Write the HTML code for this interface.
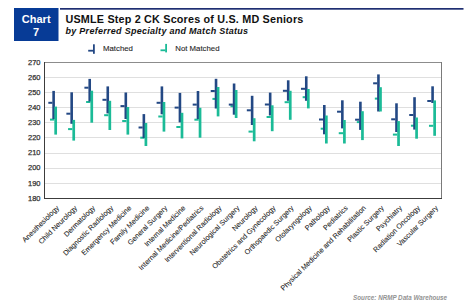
<!DOCTYPE html>
<html><head><meta charset="utf-8">
<style>
html,body{margin:0;padding:0;background:#fff;width:474px;height:304px;overflow:hidden}
svg{display:block;font-family:"Liberation Sans",sans-serif}
</style></head><body>
<svg width="474" height="304" viewBox="0 0 474 304">
<rect x="0" y="0" width="474" height="304" fill="#fff"/>
<rect x="14" y="8" width="44.5" height="33" fill="#073b96"/>
<text x="36.2" y="23.2" text-anchor="middle" font-size="11" font-weight="bold" fill="#fff">Chart</text>
<text x="36" y="36.3" text-anchor="middle" font-size="11" font-weight="bold" fill="#fff">7</text>
<rect x="60" y="8.0" width="403.5" height="1.7" fill="#1f2f72"/>
<text x="65.5" y="22.5" font-size="10.8" font-weight="bold" fill="#111" textLength="237.8" lengthAdjust="spacing">USMLE Step 2 CK Scores of U.S. MD Seniors</text>
<text x="65.5" y="33.6" font-size="9" font-weight="bold" font-style="italic" fill="#111" textLength="182.6" lengthAdjust="spacing">by Preferred Specialty and Match Status</text>
<rect x="93" y="44.3" width="1.8" height="9.5" fill="#234884"/>
<rect x="88.2" y="49.8" width="5" height="1.8" fill="#234884"/>
<text x="103" y="50.6" font-size="7.8" fill="#1e1e1e" stroke="#1e1e1e" stroke-width="0.1">Matched</text>
<rect x="165.2" y="43.9" width="1.8" height="8.5" fill="#1bbb97"/>
<rect x="160.5" y="49.4" width="5" height="1.8" fill="#1bbb97"/>
<text x="175.3" y="50.6" font-size="7.8" fill="#1e1e1e" stroke="#1e1e1e" stroke-width="0.1">Not Matched</text>
<rect x="45" y="77" width="396" height="1" fill="#dfdfdf" shape-rendering="crispEdges"/>
<rect x="45" y="92" width="396" height="1" fill="#dfdfdf" shape-rendering="crispEdges"/>
<rect x="45" y="107" width="396" height="1" fill="#dfdfdf" shape-rendering="crispEdges"/>
<rect x="45" y="122" width="396" height="1" fill="#dfdfdf" shape-rendering="crispEdges"/>
<rect x="45" y="137" width="396" height="1" fill="#dfdfdf" shape-rendering="crispEdges"/>
<rect x="45" y="153" width="396" height="1" fill="#dfdfdf" shape-rendering="crispEdges"/>
<rect x="45" y="168" width="396" height="1" fill="#dfdfdf" shape-rendering="crispEdges"/>
<rect x="45" y="183" width="396" height="1" fill="#dfdfdf" shape-rendering="crispEdges"/>
<rect x="44" y="62" width="398" height="1" fill="#8c8c8c" shape-rendering="crispEdges"/>
<rect x="441" y="62" width="1" height="137" fill="#7a7a7a" shape-rendering="crispEdges"/>
<rect x="44" y="62" width="1" height="137" fill="#3c3c3c" shape-rendering="crispEdges"/>
<rect x="44" y="198" width="398" height="1" fill="#3c3c3c" shape-rendering="crispEdges"/>
<text x="40.5" y="64.70" text-anchor="end" font-size="7.5" fill="#333" stroke="#333" stroke-width="0.25">270</text>
<text x="40.5" y="79.81" text-anchor="end" font-size="7.5" fill="#333" stroke="#333" stroke-width="0.25">260</text>
<text x="40.5" y="94.92" text-anchor="end" font-size="7.5" fill="#333" stroke="#333" stroke-width="0.25">250</text>
<text x="40.5" y="110.03" text-anchor="end" font-size="7.5" fill="#333" stroke="#333" stroke-width="0.25">240</text>
<text x="40.5" y="125.14" text-anchor="end" font-size="7.5" fill="#333" stroke="#333" stroke-width="0.25">230</text>
<text x="40.5" y="140.26" text-anchor="end" font-size="7.5" fill="#333" stroke="#333" stroke-width="0.25">220</text>
<text x="40.5" y="155.37" text-anchor="end" font-size="7.5" fill="#333" stroke="#333" stroke-width="0.25">210</text>
<text x="40.5" y="170.48" text-anchor="end" font-size="7.5" fill="#333" stroke="#333" stroke-width="0.25">200</text>
<text x="40.5" y="185.59" text-anchor="end" font-size="7.5" fill="#333" stroke="#333" stroke-width="0.25">190</text>
<text x="40.5" y="200.70" text-anchor="end" font-size="7.5" fill="#333" stroke="#333" stroke-width="0.25">180</text>
<rect x="50.02" y="118.60" width="4.3" height="2" fill="#1bbb97"/>
<rect x="52.32" y="90.90" width="2.6" height="28.10" fill="#234884"/>
<rect x="54.32" y="106.60" width="2.7" height="28.00" fill="#1bbb97"/>
<rect x="48.32" y="101.80" width="4.1" height="2" fill="#234884"/>
<rect x="68.07" y="128.10" width="4.3" height="2" fill="#1bbb97"/>
<rect x="70.37" y="92.30" width="2.6" height="31.50" fill="#234884"/>
<rect x="72.37" y="119.90" width="2.7" height="20.70" fill="#1bbb97"/>
<rect x="66.37" y="112.70" width="4.1" height="2" fill="#234884"/>
<rect x="86.11" y="101.00" width="4.3" height="2" fill="#1bbb97"/>
<rect x="88.41" y="78.90" width="2.6" height="22.60" fill="#234884"/>
<rect x="90.41" y="90.70" width="2.7" height="32.00" fill="#1bbb97"/>
<rect x="84.41" y="86.70" width="4.1" height="2" fill="#234884"/>
<rect x="104.16" y="114.20" width="4.3" height="2" fill="#1bbb97"/>
<rect x="106.46" y="86.40" width="2.6" height="27.00" fill="#234884"/>
<rect x="108.46" y="100.80" width="2.7" height="29.20" fill="#1bbb97"/>
<rect x="102.46" y="98.80" width="4.1" height="2" fill="#234884"/>
<rect x="122.20" y="120.00" width="4.3" height="2" fill="#1bbb97"/>
<rect x="124.50" y="92.50" width="2.6" height="26.50" fill="#234884"/>
<rect x="126.50" y="107.00" width="2.7" height="27.60" fill="#1bbb97"/>
<rect x="120.50" y="105.10" width="4.1" height="2" fill="#234884"/>
<rect x="140.25" y="136.70" width="4.3" height="2" fill="#1bbb97"/>
<rect x="142.55" y="114.10" width="2.6" height="24.00" fill="#234884"/>
<rect x="144.55" y="123.00" width="2.7" height="23.00" fill="#1bbb97"/>
<rect x="138.55" y="126.50" width="4.1" height="2" fill="#234884"/>
<rect x="158.30" y="115.50" width="4.3" height="2" fill="#1bbb97"/>
<rect x="160.60" y="86.40" width="2.6" height="27.90" fill="#234884"/>
<rect x="162.60" y="102.00" width="2.7" height="29.60" fill="#1bbb97"/>
<rect x="156.60" y="101.80" width="4.1" height="2" fill="#234884"/>
<rect x="176.34" y="126.00" width="4.3" height="2" fill="#1bbb97"/>
<rect x="178.64" y="92.90" width="2.6" height="29.50" fill="#234884"/>
<rect x="180.64" y="112.80" width="2.7" height="25.60" fill="#1bbb97"/>
<rect x="174.64" y="106.60" width="4.1" height="2" fill="#234884"/>
<rect x="194.39" y="118.70" width="4.3" height="2" fill="#1bbb97"/>
<rect x="196.69" y="91.00" width="2.6" height="28.00" fill="#234884"/>
<rect x="198.69" y="107.80" width="2.7" height="29.90" fill="#1bbb97"/>
<rect x="192.69" y="103.60" width="4.1" height="2" fill="#234884"/>
<rect x="212.43" y="97.90" width="4.3" height="2" fill="#1bbb97"/>
<rect x="214.73" y="78.80" width="2.6" height="29.70" fill="#234884"/>
<rect x="216.73" y="87.00" width="2.7" height="29.40" fill="#1bbb97"/>
<rect x="210.73" y="90.00" width="4.1" height="2" fill="#234884"/>
<rect x="230.48" y="105.20" width="4.3" height="2" fill="#1bbb97"/>
<rect x="232.78" y="83.50" width="2.6" height="31.20" fill="#234884"/>
<rect x="234.78" y="90.00" width="2.7" height="28.00" fill="#1bbb97"/>
<rect x="228.78" y="103.60" width="4.1" height="2" fill="#234884"/>
<rect x="248.52" y="130.60" width="4.3" height="2" fill="#1bbb97"/>
<rect x="250.82" y="95.80" width="2.6" height="29.20" fill="#234884"/>
<rect x="252.82" y="118.20" width="2.7" height="23.10" fill="#1bbb97"/>
<rect x="246.82" y="109.30" width="4.1" height="2" fill="#234884"/>
<rect x="266.57" y="116.00" width="4.3" height="2" fill="#1bbb97"/>
<rect x="268.87" y="92.60" width="2.6" height="22.90" fill="#234884"/>
<rect x="270.87" y="105.30" width="2.7" height="25.90" fill="#1bbb97"/>
<rect x="264.87" y="103.50" width="4.1" height="2" fill="#234884"/>
<rect x="284.61" y="101.20" width="4.3" height="2" fill="#1bbb97"/>
<rect x="286.91" y="80.30" width="2.6" height="20.50" fill="#234884"/>
<rect x="288.91" y="90.80" width="2.7" height="29.00" fill="#1bbb97"/>
<rect x="282.91" y="89.80" width="4.1" height="2" fill="#234884"/>
<rect x="302.66" y="96.20" width="4.3" height="2" fill="#1bbb97"/>
<rect x="304.96" y="76.30" width="2.6" height="24.50" fill="#234884"/>
<rect x="306.96" y="89.00" width="2.7" height="19.40" fill="#1bbb97"/>
<rect x="300.96" y="87.80" width="4.1" height="2" fill="#234884"/>
<rect x="320.70" y="127.70" width="4.3" height="2" fill="#1bbb97"/>
<rect x="323.00" y="105.00" width="2.6" height="29.30" fill="#234884"/>
<rect x="325.00" y="115.50" width="2.7" height="28.00" fill="#1bbb97"/>
<rect x="319.00" y="118.50" width="4.1" height="2" fill="#234884"/>
<rect x="338.75" y="132.20" width="4.3" height="2" fill="#1bbb97"/>
<rect x="341.05" y="100.30" width="2.6" height="28.10" fill="#234884"/>
<rect x="343.05" y="120.00" width="2.7" height="23.50" fill="#1bbb97"/>
<rect x="337.05" y="110.70" width="4.1" height="2" fill="#234884"/>
<rect x="356.80" y="121.10" width="4.3" height="2" fill="#1bbb97"/>
<rect x="359.10" y="101.70" width="2.6" height="28.20" fill="#234884"/>
<rect x="361.10" y="111.20" width="2.7" height="28.90" fill="#1bbb97"/>
<rect x="355.10" y="118.70" width="4.1" height="2" fill="#234884"/>
<rect x="374.84" y="97.60" width="4.3" height="2" fill="#1bbb97"/>
<rect x="377.14" y="74.40" width="2.6" height="37.10" fill="#234884"/>
<rect x="379.14" y="87.20" width="2.7" height="24.30" fill="#1bbb97"/>
<rect x="373.14" y="82.30" width="4.1" height="2" fill="#234884"/>
<rect x="392.89" y="133.60" width="4.3" height="2" fill="#1bbb97"/>
<rect x="395.19" y="103.30" width="2.6" height="28.70" fill="#234884"/>
<rect x="397.19" y="121.10" width="2.7" height="24.90" fill="#1bbb97"/>
<rect x="391.19" y="118.30" width="4.1" height="2" fill="#234884"/>
<rect x="410.93" y="124.70" width="4.3" height="2" fill="#1bbb97"/>
<rect x="413.23" y="97.20" width="2.6" height="32.40" fill="#234884"/>
<rect x="415.23" y="117.50" width="2.7" height="21.20" fill="#1bbb97"/>
<rect x="409.23" y="114.00" width="4.1" height="2" fill="#234884"/>
<rect x="428.98" y="124.80" width="4.3" height="2" fill="#1bbb97"/>
<rect x="431.28" y="86.30" width="2.6" height="16.70" fill="#234884"/>
<rect x="433.28" y="100.40" width="2.7" height="35.40" fill="#1bbb97"/>
<rect x="427.28" y="100.00" width="4.1" height="2" fill="#234884"/>
<text transform="translate(56.02,204.80) rotate(-45)" text-anchor="end" x="0" y="5" font-size="7.2" fill="#1a1a1a" stroke="#1a1a1a" stroke-width="0.08">Anesthesiology</text>
<text transform="translate(74.07,204.80) rotate(-45)" text-anchor="end" x="0" y="5" font-size="7.2" fill="#1a1a1a" stroke="#1a1a1a" stroke-width="0.08">Child Neurology</text>
<text transform="translate(92.11,204.80) rotate(-45)" text-anchor="end" x="0" y="5" font-size="7.2" fill="#1a1a1a" stroke="#1a1a1a" stroke-width="0.08">Dermatology</text>
<text transform="translate(110.16,204.80) rotate(-45)" text-anchor="end" x="0" y="5" font-size="7.2" fill="#1a1a1a" stroke="#1a1a1a" stroke-width="0.08">Diagnostic Radiology</text>
<text transform="translate(128.20,204.80) rotate(-45)" text-anchor="end" x="0" y="5" font-size="7.2" fill="#1a1a1a" stroke="#1a1a1a" stroke-width="0.08">Emergency Medicine</text>
<text transform="translate(146.25,204.80) rotate(-45)" text-anchor="end" x="0" y="5" font-size="7.2" fill="#1a1a1a" stroke="#1a1a1a" stroke-width="0.08">Family Medicine</text>
<text transform="translate(164.30,204.80) rotate(-45)" text-anchor="end" x="0" y="5" font-size="7.2" fill="#1a1a1a" stroke="#1a1a1a" stroke-width="0.08">General Surgery</text>
<text transform="translate(182.34,204.80) rotate(-45)" text-anchor="end" x="0" y="5" font-size="7.2" fill="#1a1a1a" stroke="#1a1a1a" stroke-width="0.08">Internal Medicine</text>
<text transform="translate(200.39,204.80) rotate(-45)" text-anchor="end" x="0" y="5" font-size="7.2" fill="#1a1a1a" stroke="#1a1a1a" stroke-width="0.08">Internal Medicine/Pediatrics</text>
<text transform="translate(218.43,204.80) rotate(-45)" text-anchor="end" x="0" y="5" font-size="7.2" fill="#1a1a1a" stroke="#1a1a1a" stroke-width="0.08">Interventional Radiology</text>
<text transform="translate(236.48,204.80) rotate(-45)" text-anchor="end" x="0" y="5" font-size="7.2" fill="#1a1a1a" stroke="#1a1a1a" stroke-width="0.08">Neurological Surgery</text>
<text transform="translate(254.52,204.80) rotate(-45)" text-anchor="end" x="0" y="5" font-size="7.2" fill="#1a1a1a" stroke="#1a1a1a" stroke-width="0.08">Neurology</text>
<text transform="translate(272.57,204.80) rotate(-45)" text-anchor="end" x="0" y="5" font-size="7.2" fill="#1a1a1a" stroke="#1a1a1a" stroke-width="0.08">Obstetrics and Gynecology</text>
<text transform="translate(290.61,204.80) rotate(-45)" text-anchor="end" x="0" y="5" font-size="7.2" fill="#1a1a1a" stroke="#1a1a1a" stroke-width="0.08">Orthopaedic Surgery</text>
<text transform="translate(308.66,204.80) rotate(-45)" text-anchor="end" x="0" y="5" font-size="7.2" fill="#1a1a1a" stroke="#1a1a1a" stroke-width="0.08">Otolaryngology</text>
<text transform="translate(326.70,204.80) rotate(-45)" text-anchor="end" x="0" y="5" font-size="7.2" fill="#1a1a1a" stroke="#1a1a1a" stroke-width="0.08">Pathology</text>
<text transform="translate(344.75,204.80) rotate(-45)" text-anchor="end" x="0" y="5" font-size="7.2" fill="#1a1a1a" stroke="#1a1a1a" stroke-width="0.08">Pediatrics</text>
<text transform="translate(362.80,204.80) rotate(-45)" text-anchor="end" x="0" y="5" font-size="7.2" fill="#1a1a1a" stroke="#1a1a1a" stroke-width="0.08">Physical Medicine and Rehabilitation</text>
<text transform="translate(380.84,204.80) rotate(-45)" text-anchor="end" x="0" y="5" font-size="7.2" fill="#1a1a1a" stroke="#1a1a1a" stroke-width="0.08">Plastic Surgery</text>
<text transform="translate(398.89,204.80) rotate(-45)" text-anchor="end" x="0" y="5" font-size="7.2" fill="#1a1a1a" stroke="#1a1a1a" stroke-width="0.08">Psychiatry</text>
<text transform="translate(416.93,204.80) rotate(-45)" text-anchor="end" x="0" y="5" font-size="7.2" fill="#1a1a1a" stroke="#1a1a1a" stroke-width="0.08">Radiation Oncology</text>
<text transform="translate(434.98,204.80) rotate(-45)" text-anchor="end" x="0" y="5" font-size="7.2" fill="#1a1a1a" stroke="#1a1a1a" stroke-width="0.08">Vascular Surgery</text>
<text x="353.1" y="299.8" font-size="6.6" font-weight="bold" font-style="italic" fill="#929292" textLength="94" lengthAdjust="spacingAndGlyphs">Source: NRMP Data Warehouse</text>
</svg>
</body></html>
